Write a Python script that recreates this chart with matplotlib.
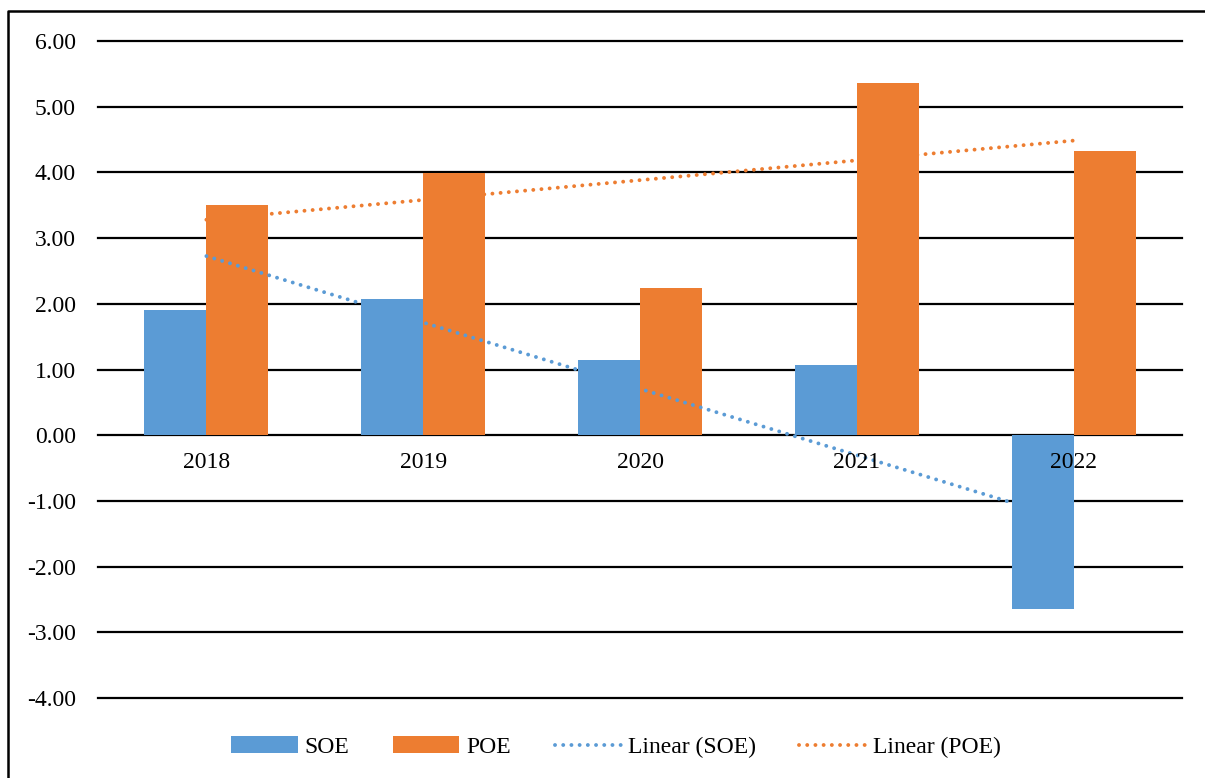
import numpy as np
import matplotlib
matplotlib.use('Agg')
import matplotlib.pyplot as plt
from matplotlib.lines import Line2D

years = ['2018', '2019', '2020', '2021', '2022']
soe = [1.90, 2.07, 1.14, 1.07, -2.65]
poe = [3.50, 3.99, 2.24, 5.36, 4.32]
yticks = [6, 5, 4, 3, 2, 1, 0, -1, -2, -3, -4]

plt.rcParams['font.family'] = ['Liberation Serif', 'DejaVu Serif']
plt.rcParams['font.size'] = 17

fig = plt.figure(figsize=(12.05, 7.78), dpi=100)
ax = fig.add_axes([98 / 1205, 1 - 698 / 778, (1182 - 98) / 1205, (698 - 41) / 778])

x = np.arange(len(years))
w = 0.286
blue = '#5B9BD5'
orange = '#ED7D31'

# bars, with the SOE trend sitting between the two series as in the original
b_soe = ax.bar(x - w / 2, soe, w, color=blue, zorder=5)
b_poe = ax.bar(x + w / 2, poe, w, color=orange, zorder=3)

# linear trendlines (least squares on 1..n like Excel)
xs = np.arange(1, len(years) + 1)
k1, b1 = np.polyfit(xs, soe, 1)
k2, b2 = np.polyfit(xs, poe, 1)
dots = (0, (0.01, 2.1))
l_soe, = ax.plot(x, k1 * xs + b1, color=blue, lw=2.8, linestyle=dots,
                 dash_capstyle='round', zorder=4)
l_poe, = ax.plot(x, k2 * xs + b2, color=orange, lw=2.8, linestyle=dots,
                 dash_capstyle='round', zorder=2)

ax.set_xlim(-0.5, len(years) - 0.5)
ax.set_ylim(-4, 6)
ax.set_yticks(yticks)
ax.set_yticklabels([f'{v:.2f}' for v in yticks])
ax.set_xticks([])
ax.tick_params(axis='y', length=0, pad=16)
for s in ax.spines.values():
    s.set_visible(False)
ax.grid(axis='y', color='black', lw=1.6, zorder=1)
ax.set_axisbelow(True)
for gl in ax.get_ygridlines():
    gl.set_clip_on(False)

# category labels sit just under the zero line, on top of everything
for i, lab in enumerate(years):
    ax.annotate(lab, (i, 0), xytext=(0, -20), textcoords='offset points',
                ha='center', va='center', zorder=10)

fig.legend([b_soe, b_poe, l_soe, l_poe],
           ['SOE', 'POE', 'Linear (SOE)', 'Linear (POE)'],
           loc='center', ncol=4,
           bbox_to_anchor=(616 / 1205, 1 - 747 / 778), frameon=False,
           handlelength=2.8, handletextpad=0.3, columnspacing=1.85)

# outer frame (left and top only are visible in the crop)
fig.add_artist(Line2D([8 / 1205, 8 / 1205, 1.0], [0.0, 1 - 11 / 778, 1 - 11 / 778],
                      transform=fig.transFigure, color='black', lw=1.8))

fig.savefig('out.png', dpi=100)
